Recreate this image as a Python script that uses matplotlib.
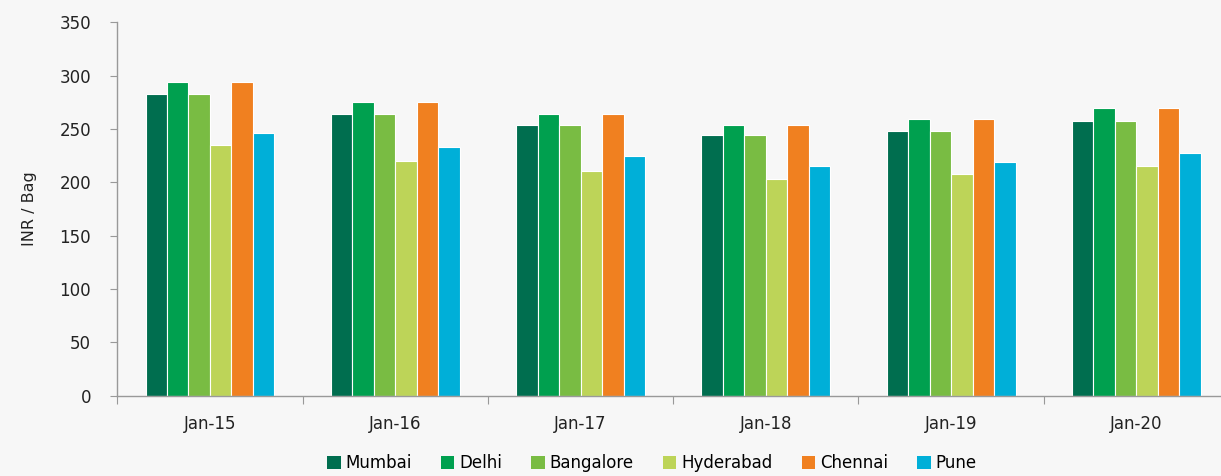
import numpy as np
import matplotlib.pyplot as plt
from matplotlib.patches import Patch

# Data (INR per bag)
periods = ["Jan-15", "Jan-16", "Jan-17", "Jan-18", "Jan-19", "Jan-20"]
mumbai = [283, 264, 254, 244, 248, 258]
delhi = [294, 275, 264, 254, 259, 270]
bangalore = [283, 264, 254, 244, 248, 258]
hyderabad = [235, 220, 211, 203, 208, 215]
chennai = [294, 275, 264, 254, 259, 270]
pune = [246, 233, 225, 215, 219, 228]

cities = ["Mumbai", "Delhi", "Bangalore", "Hyderabad", "Chennai", "Pune"]
series = [mumbai, delhi, bangalore, hyderabad, chennai, pune]
colors = ["#006e4f", "#00a04f", "#79bc43", "#bdd458", "#f08020", "#00afd8"]

bg = "#f7f7f7"
fig = plt.figure(figsize=(12.21, 4.76), dpi=100, facecolor=bg)
ax = fig.add_axes([0.0961, 0.1687, 0.9105, 0.7843])
ax.set_facecolor(bg)

x = np.arange(len(periods))
w = 0.116
for i, (name, vals, c) in enumerate(zip(cities, series, colors)):
    ax.bar(x + (i - 2.5) * w, vals, width=w, color=c, edgecolor="white",
           linewidth=0.8, label=name, zorder=2)

ax.set_xlim(-0.5, len(periods) - 0.5)
ax.set_ylim(0, 350)
ax.set_yticks(range(0, 351, 50))

# category boundaries carry the tick marks, labels sit in between
ax.set_xticks(np.arange(len(periods) + 1) - 0.5)
ax.set_xticklabels([])
ax.set_xticks(x, minor=True)
ax.set_xticklabels(periods, minor=True)
ax.tick_params(axis="x", which="minor", length=0, pad=14, labelsize=12, labelcolor="#222222")
ax.tick_params(axis="x", which="major", length=6, color="#999999")
ax.tick_params(axis="y", length=5, color="#999999", labelsize=12, labelcolor="#222222", pad=14)

for s in ["top", "right"]:
    ax.spines[s].set_visible(False)
for s in ["left", "bottom"]:
    ax.spines[s].set_color("#999999")
    ax.spines[s].set_linewidth(1.0)

ax.set_ylabel("INR / Bag", fontsize=11.5, color="#222222", labelpad=16)

handles = [Patch(facecolor=c, label=n) for n, c in zip(cities, colors)]
fig.legend(handles=handles, loc="center", bbox_to_anchor=(0.534, 0.027), ncol=6,
           frameon=False, fontsize=12, handlelength=0.8, handleheight=0.8,
           handletextpad=0.3, columnspacing=1.75)

fig.savefig("out.png", dpi=100, facecolor=bg)
